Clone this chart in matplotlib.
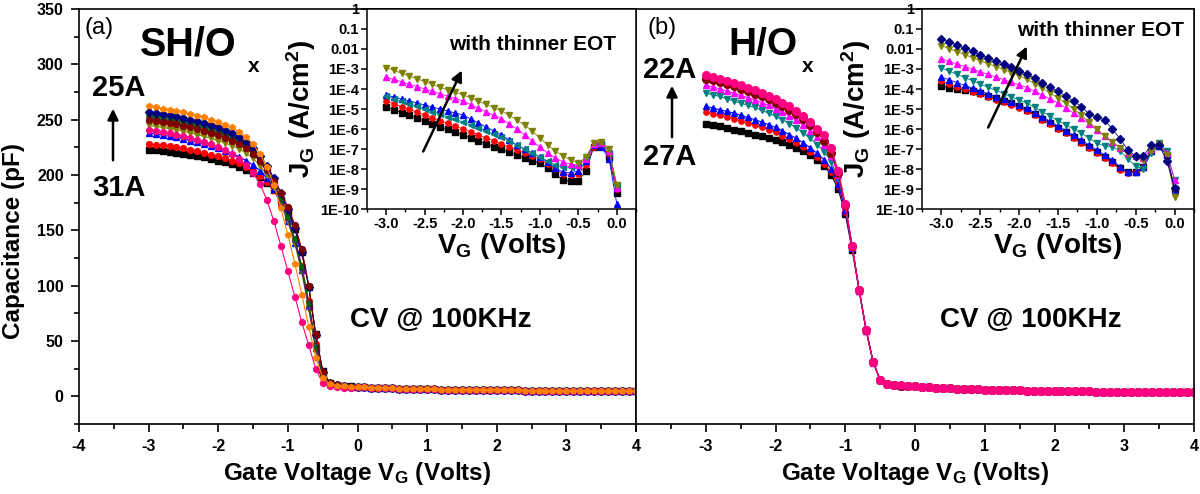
import numpy as np
import matplotlib
matplotlib.use('Agg')
import matplotlib.pyplot as plt
from matplotlib.ticker import MultipleLocator, FixedLocator, NullLocator

plt.rcParams['font.family'] = ['Liberation Sans', 'DejaVu Sans']
plt.rcParams['font.weight'] = 'bold'
plt.rcParams['axes.labelweight'] = 'bold'
plt.rcParams['axes.unicode_minus'] = False
plt.rcParams['mathtext.fontset'] = 'custom'
plt.rcParams['mathtext.rm'] = 'Liberation Sans:bold'
plt.rcParams['mathtext.it'] = 'Liberation Sans:bold'
plt.rcParams['mathtext.bf'] = 'Liberation Sans:bold'
plt.rcParams['mathtext.default'] = 'regular'

# ---------------- data ----------------
# CV sweep voltages (V): head -3.0..-0.1, tail 0.0..4.0 (step 0.1)
v_head = np.round(np.arange(-3.0, -0.05, 0.1), 1)
v_tail = np.round(np.arange(0.0, 4.05, 0.1), 1)
v_cv = np.concatenate([v_head, v_tail])

# panel (a) SH/Ox capacitance (pF), head part
cv_a_black = [223, 222.5, 222, 221, 220, 219, 218, 217, 216, 214.5, 213, 211.5, 209.5, 207, 204.5,
              201.5, 198, 193, 186, 177, 166, 151, 130, 99, 56, 23, 12.5, 10.5, 9.5, 9]
cv_a_red = [228, 227.5, 227, 226, 225, 224, 223, 221.5, 220, 218.5, 217, 215, 213, 210.5, 207.5,
            204, 199.5, 194, 186, 175, 160, 142, 118, 86, 47, 20, 12, 10, 9.2, 8.7]
cv_a_blue = [238, 237, 236, 235, 234, 232.5, 231, 229.5, 228, 226, 224, 222, 219.5, 216.5, 213,
             209, 204, 197, 187, 174, 158, 139, 114, 82, 44, 19, 11.5, 10, 9.2, 8.7]
cv_a_olive = [245, 244, 243, 242, 241, 239.5, 238, 236.5, 235, 233, 231, 229, 226.5, 223.5, 220,
              215, 208.5, 200, 189, 175, 158, 138, 112, 79, 42, 18, 11.5, 10, 9.2, 8.7]
cv_a_navy = [257, 256, 255, 254, 253, 251.5, 250, 248.5, 247, 245, 243, 240.5, 238, 234.5, 230,
             224, 217, 208, 197, 184, 169, 152, 130, 99, 55, 22, 12, 10, 9.2, 8.7]
cv_a_purple = [252, 251, 250, 249, 248, 246.5, 245, 243.5, 242, 240, 238, 235.5, 233, 229.5, 225,
               219, 212, 203, 191, 177, 160, 140, 114, 81, 43, 18, 11.5, 10, 9.2, 8.7]
cv_a_wine = [250, 249, 248, 247, 246, 244.5, 243, 241.5, 240, 238, 236, 233.5, 231, 228, 224,
             219, 213, 205, 195, 184, 171, 155, 133, 100, 56, 22, 12, 10, 9.2, 8.7]
cv_a_green = [254, 253, 252, 251, 250, 248.5, 247, 245.5, 244, 242, 240, 237.5, 235, 231.5, 227,
              221, 214, 205, 193, 179, 162, 142, 117, 84, 45, 19, 11.5, 10, 9.2, 8.7]
cv_a_pink = [241, 240, 239, 238, 236.5, 235, 233.5, 232, 230, 228, 225.5, 222.5, 219, 214.5, 209,
             202, 192, 177, 158, 136, 113, 90, 67, 46, 25, 12, 9, 8, 7.8, 7.6]
cv_a_orange = [262, 261, 260, 259, 258, 256.5, 255, 253.5, 252, 250, 248, 245.5, 243, 239, 234,
               228, 219, 207, 191, 170, 146, 120, 92, 63, 35, 17, 11, 9.5, 9, 8.6]
cv_a_tail = [8.3, 8.0, 7.7, 7.5, 7.3, 7.1, 6.9, 6.7, 6.6, 6.4, 6.3, 6.2, 6.1, 6.0, 5.9, 5.8, 5.7,
             5.65, 5.6, 5.5, 5.45, 5.4, 5.35, 5.3, 5.25, 5.2, 5.15, 5.1, 5.05, 5.0, 4.95, 4.9, 4.85,
             4.8, 4.75, 4.7, 4.65, 4.6, 4.55, 4.5, 4.5]

# panel (b) H/Ox capacitance (pF), head part
cv_b_black = [246, 245, 244, 242.5, 241, 239.5, 238, 236.5, 235, 233, 231.5, 229.5, 227, 224.5, 221.5,
              218, 213.5, 208, 200, 187, 165, 132, 95, 59, 31, 15, 11.5, 10.3, 9.7, 9.2]
cv_b_red = [257, 255.5, 254, 252.5, 251, 249, 247, 245, 243, 241, 238.5, 235.5, 232.5, 229, 225,
            221, 216, 210, 202.5, 190, 167, 134, 96, 60, 31, 15, 11.5, 10.3, 9.7, 9.2]
cv_b_blue = [262, 260.5, 259, 257.5, 256, 254, 252, 250, 248, 245.5, 243, 240, 236.5, 233, 229,
             224.5, 219.5, 213.5, 205.5, 192, 168, 134, 96, 60, 31, 15, 11.5, 10.3, 9.7, 9.2]
cv_b_teal = [274, 272.5, 271, 269, 267, 265, 263, 261, 258.5, 256, 253, 250, 246.5, 242.5, 238,
             233, 227.5, 221, 212, 197, 171, 135, 96, 60, 31, 15, 11.5, 10.3, 9.7, 9.2]
cv_b_magenta = [281, 279.5, 278, 276, 274, 272, 270, 268, 265.5, 263, 260, 257, 253.5, 249.5, 245,
                240, 234, 227, 217, 200, 172, 135, 95, 59, 30, 15, 11.5, 10.3, 9.7, 9.2]
cv_b_wine = [287, 285.5, 284, 282, 280, 278, 276, 273.5, 271, 268.5, 265.5, 262.5, 259, 255, 250.5,
             245, 239, 231, 220, 202, 173, 136, 96, 60, 31, 15, 11.5, 10.3, 9.7, 9.2]
cv_b_pink = [290, 288.5, 287, 285, 283, 281, 279, 276.5, 274, 271.5, 268.5, 265.5, 262, 258, 253.5,
             248, 242, 236, 224, 204, 174, 136, 96, 60, 31, 15, 11.5, 10.5, 9.8, 9.3]
cv_b_tail = [9.0, 8.6, 8.2, 7.8, 7.5, 7.2, 6.9, 6.7, 6.5, 6.3, 6.1, 5.9, 5.75, 5.6, 5.45, 5.3, 5.2,
             5.1, 5.0, 4.9, 4.8, 4.7, 4.6, 4.5, 4.45, 4.4, 4.35, 4.3, 4.25, 4.2, 4.15, 4.1, 4.05,
             4.0, 3.95, 3.9, 3.85, 3.8, 3.75, 3.7, 3.65]

# insets: gate leakage, log10(J_G [A/cm^2]) at V = -3.0 .. 0.0 step 0.1
v_jg = np.round(np.arange(-3.0, 0.05, 0.1), 1)
lj_a_black = [-4.90, -5.04, -5.18, -5.32, -5.46, -5.60, -5.74, -5.88, -6.02, -6.16, -6.30, -6.45, -6.60,
              -6.74, -6.88, -7.02, -7.16, -7.30, -7.44, -7.58, -7.72, -7.95, -8.25, -8.55, -8.62, -8.60,
              -8.10, -6.90, -6.80, -7.40, -9.20]
lj_a_red = [-4.60, -4.74, -4.88, -5.02, -5.16, -5.30, -5.44, -5.58, -5.72, -5.86, -6.00, -6.15, -6.30,
            -6.45, -6.60, -6.75, -6.90, -7.05, -7.20, -7.35, -7.50, -7.75, -8.00, -8.25, -8.30, -8.25,
            -7.80, -6.90, -6.80, -7.30, -9.00]
lj_a_blue = [-4.30, -4.40, -4.50, -4.60, -4.70, -4.80, -4.90, -5.00, -5.10, -5.20, -5.30, -5.50, -5.70,
             -5.90, -6.10, -6.30, -6.55, -6.80, -7.00, -7.20, -7.40, -7.65, -7.95, -8.15, -8.20, -8.10,
             -7.60, -6.80, -6.90, -7.50, -9.75]
lj_a_teal = [-4.35, -4.48, -4.61, -4.74, -4.87, -5.00, -5.13, -5.26, -5.39, -5.52, -5.65, -5.80, -5.95,
             -6.10, -6.25, -6.40, -6.60, -6.80, -7.00, -7.20, -7.40, -7.60, -7.80, -7.90, -7.90, -7.85,
             -7.40, -6.75, -6.75, -7.20, -8.80]
lj_a_magenta = [-3.40, -3.52, -3.64, -3.76, -3.88, -4.00, -4.12, -4.24, -4.36, -4.48, -4.60, -4.78, -4.96,
                -5.14, -5.32, -5.50, -5.75, -6.00, -6.30, -6.60, -6.90, -7.20, -7.45, -7.65, -7.75, -7.80,
                -7.50, -6.75, -6.70, -7.10, -8.95]
lj_a_olive = [-2.93, -3.07, -3.21, -3.35, -3.49, -3.63, -3.77, -3.91, -4.05, -4.17, -4.29, -4.45, -4.61,
              -4.77, -4.93, -5.10, -5.30, -5.55, -5.80, -6.10, -6.45, -6.80, -7.10, -7.35, -7.55, -7.70,
              -7.40, -6.70, -6.65, -7.00, -8.80]

lj_b_black = [-3.87, -3.93, -3.99, -4.05, -4.12, -4.22, -4.34, -4.46, -4.58, -4.72, -4.86, -5.05, -5.26,
              -5.48, -5.70, -5.93, -6.16, -6.40, -6.65, -6.90, -7.15, -7.40, -7.65, -7.95, -8.15, -8.15,
              -7.90, -7.10, -6.85, -7.30, -9.00]
lj_b_red = [-3.60, -3.74, -3.88, -4.01, -4.14, -4.27, -4.40, -4.53, -4.66, -4.80, -4.95, -5.12, -5.32,
            -5.54, -5.76, -5.98, -6.20, -6.45, -6.70, -6.95, -7.20, -7.45, -7.70, -8.05, -8.20, -8.15,
            -7.90, -7.10, -6.85, -7.30, -9.00]
lj_b_blue = [-3.40, -3.54, -3.68, -3.82, -3.96, -4.10, -4.24, -4.38, -4.52, -4.66, -4.80, -4.97, -5.18,
             -5.40, -5.62, -5.85, -6.08, -6.32, -6.55, -6.80, -7.05, -7.30, -7.55, -7.90, -8.15, -8.15,
             -7.90, -7.10, -6.85, -7.30, -9.10]
lj_b_teal = [-2.95, -3.11, -3.27, -3.43, -3.59, -3.75, -3.91, -4.07, -4.23, -4.39, -4.55, -4.72, -4.92,
             -5.14, -5.36, -5.58, -5.80, -6.00, -6.20, -6.45, -6.70, -6.85, -6.90, -7.10, -7.50, -7.85,
             -8.00, -7.20, -6.70, -7.10, -8.55]
lj_b_magenta = [-2.49, -2.62, -2.75, -2.88, -3.01, -3.14, -3.27, -3.40, -3.53, -3.66, -3.79, -3.93, -4.10,
                -4.30, -4.50, -4.70, -4.95, -5.20, -5.45, -5.75, -6.05, -6.35, -6.65, -6.95, -7.20, -7.35,
                -7.45, -7.00, -6.75, -7.20, -8.55]
lj_b_olive = [-1.83, -1.98, -2.13, -2.28, -2.43, -2.58, -2.73, -2.88, -3.03, -3.18, -3.33, -3.52, -3.73,
              -3.96, -4.20, -4.45, -4.72, -5.00, -5.30, -5.65, -6.00, -6.35, -6.65, -6.95, -7.25, -7.45,
              -7.55, -7.10, -6.75, -7.30, -9.40]
lj_b_navy = [-1.48, -1.64, -1.80, -1.96, -2.12, -2.28, -2.44, -2.60, -2.76, -2.92, -3.08, -3.26, -3.46,
             -3.68, -3.90, -4.12, -4.36, -4.60, -4.88, -5.25, -5.40, -5.55, -6.00, -6.50, -7.05, -7.35,
             -7.35, -6.80, -6.80, -7.60, -8.95]

cv_ticks = [-4, -3, -2, -1, 0, 1, 2, 3, 4]
jg_ticks = [1, 0.1, 0.01, 1e-3, 1e-4, 1e-5, 1e-6, 1e-7, 1e-8, 1e-9, 1e-10]
jg_labels = ['1', '0.1', '0.01', '1E-3', '1E-4', '1E-5', '1E-6', '1E-7', '1E-8', '1E-9', '1E-10']
vg_ticks = [-3.0, -2.5, -2.0, -1.5, -1.0, -0.5, 0.0]

# ---------------- style ----------------
C = dict(black='#000000', red='#FF0000', blue='#0000FF', olive='#808000', navy='#000080',
         purple='#6A0DAD', wine='#800000', green='#006400', pink='#FF0080', orange='#FF8000',
         teal='#008080', magenta='#FF00FF')

W, H = 1200, 494
fig = plt.figure(figsize=(12, 4.94), dpi=100)


def fx(px):
    return px / W


def fy(py):
    return 1 - py / H


def bold_ticks(ax):
    for lab in ax.get_xticklabels() + ax.get_yticklabels():
        lab.set_fontweight('bold')


def main_axes(x0, x1):
    ax = fig.add_axes([fx(x0), fy(424), fx(x1) - fx(x0), fy(9) - fy(424)])
    ax.set_xlim(-4, 4)
    ax.set_ylim(-25, 350)
    for s in ax.spines.values():
        s.set_linewidth(1.2)
    ax.xaxis.set_major_locator(FixedLocator(cv_ticks))
    ax.xaxis.set_minor_locator(MultipleLocator(0.5))
    ax.yaxis.set_major_locator(MultipleLocator(50))
    ax.yaxis.set_minor_locator(MultipleLocator(25))
    ax.tick_params(which='major', direction='out', length=6, width=1.2, labelsize=11.5, pad=5,
                   top=False, right=False)
    ax.tick_params(which='minor', direction='out', length=3.5, width=1.2, top=False, right=False)
    ax.set_xlabel('Gate Voltage V$_\\mathbf{G}$ (Volts)', fontsize=17.5, fontweight='bold', labelpad=4)
    return ax


ax_a = main_axes(79, 636)
ax_b = main_axes(636, 1194)
ax_a.set_ylabel('Capacitance (pF)', fontsize=17.5, fontweight='bold')
ax_a.yaxis.set_label_coords(-0.097, 0.44)
ax_b.set_xticklabels(['', '-3', '-2', '-1', '0', '1', '2', '3', '4'])
ax_b.tick_params(axis='y', which='both', left=False, labelleft=False)
bold_ticks(ax_a)
bold_ticks(ax_b)

series_a = [
    (cv_a_black, 'black', 's'), (cv_a_red, 'red', 'o'), (cv_a_blue, 'blue', '^'),
    (cv_a_olive, 'olive', 'v'), (cv_a_purple, 'purple', '<'), (cv_a_green, 'green', 'h'),
    (cv_a_navy, 'navy', 'D'), (cv_a_wine, 'wine', 'o'), (cv_a_pink, 'pink', 'o'),
    (cv_a_orange, 'orange', 'p'),
]
for vals, cname, mk in series_a:
    y = np.concatenate([vals, cv_a_tail])
    ax_a.plot(v_cv, y, color=C[cname], marker=mk, ms=4.2, lw=0.8, mec=C[cname], mfc=C[cname])

series_b = [
    (cv_b_black, 'black', 's', 3.8), (cv_b_red, 'red', 'o', 3.8), (cv_b_blue, 'blue', '^', 4.2),
    (cv_b_teal, 'teal', 'v', 4.4), (cv_b_magenta, 'magenta', '^', 4.4), (cv_b_wine, 'wine', 'o', 5.5),
    (cv_b_pink, 'pink', 'o', 5.5),
]
for vals, cname, mk, ms in series_b:
    y = np.concatenate([vals, cv_b_tail])
    ax_b.plot(v_cv, y, color=C[cname], marker=mk, ms=ms, lw=0.8, mec=C[cname], mfc=C[cname])


def inset_axes(x0, x1):
    ax = fig.add_axes([fx(x0), fy(209), fx(x1) - fx(x0), fy(9) - fy(209)])
    ax.set_yscale('log')
    ax.set_xlim(-3.25, 0.25)
    ax.set_ylim(1e-10, 1)
    for s in ax.spines.values():
        s.set_linewidth(1.1)
    ax.yaxis.set_major_locator(FixedLocator(jg_ticks))
    ax.yaxis.set_minor_locator(NullLocator())
    ax.set_yticklabels(jg_labels)
    ax.xaxis.set_major_locator(FixedLocator(vg_ticks))
    ax.set_xticklabels(['%.1f' % t for t in vg_ticks])
    ax.xaxis.set_minor_locator(MultipleLocator(0.25))
    ax.tick_params(which='major', direction='out', length=4, width=1.1, labelsize=10.5, pad=2,
                   top=False, right=False)
    ax.tick_params(which='minor', direction='out', length=2.5, width=1.0, top=False, right=False)
    ax.set_xlabel('V$_\\mathbf{G}$ (Volts)', fontsize=20, fontweight='bold', labelpad=0)
    ax.set_ylabel('J$_\\mathbf{G}$ (A/cm$^\\mathbf{2}$)', fontsize=20, fontweight='bold', labelpad=1)
    bold_ticks(ax)
    return ax


in_a = inset_axes(367, 636)
in_b = inset_axes(922, 1194)

ins_a = [(lj_a_black, 'black', 's'), (lj_a_red, 'red', 'o'), (lj_a_blue, 'blue', '^'),
         (lj_a_teal, 'teal', '<'), (lj_a_magenta, 'magenta', '^'), (lj_a_olive, 'olive', 'v')]
for vals, cname, mk in ins_a:
    in_a.plot(v_jg, 10.0 ** np.array(vals), color=C[cname], marker=mk, ms=3.8, lw=0.6,
              mec=C[cname], mfc=C[cname])

ins_b = [(lj_b_black, 'black', 's'), (lj_b_red, 'red', 'o'), (lj_b_blue, 'blue', '^'),
         (lj_b_teal, 'teal', 'v'), (lj_b_magenta, 'magenta', '^'), (lj_b_olive, 'olive', 'v'),
         (lj_b_navy, 'navy', 'D')]
for vals, cname, mk in ins_b:
    in_b.plot(v_jg, 10.0 ** np.array(vals), color=C[cname], marker=mk, ms=3.8, lw=0.6,
              mec=C[cname], mfc=C[cname])

# ---------------- annotations ----------------
def ftext(x, y, s, **kw):
    kw.setdefault('fontweight', 'bold')
    fig.text(fx(x), fy(y), s, **kw)


ftext(99, 28, '(a)', fontsize=17, fontweight='normal', ha='center', va='center')
ftext(662, 28, '(b)', fontsize=17, fontweight='normal', ha='center', va='center')
ftext(140, 55, 'SH/O', fontsize=28.5, ha='left', va='baseline')
ftext(254, 66, 'x', fontsize=15, ha='center', va='center')
ftext(728, 55, 'H/O', fontsize=28, ha='left', va='baseline')
ftext(808, 67, 'x', fontsize=15, ha='center', va='center')
ftext(119, 88, '25A', fontsize=21, ha='center', va='center')
ftext(119, 188, '31A', fontsize=21, ha='center', va='center')
ftext(670, 70, '22A', fontsize=21, ha='center', va='center')
ftext(670, 157, '27A', fontsize=21, ha='center', va='center')
ftext(441, 320, 'CV @ 100KHz', fontsize=20, ha='center', va='center')
ftext(1031, 320, 'CV @ 100KHz', fontsize=20, ha='center', va='center')
ftext(533, 45, 'with thinner EOT', fontsize=15, ha='center', va='center')
ftext(1101, 31, 'with thinner EOT', fontsize=15, ha='center', va='center')


def farrow(x0, y0, x1, y1):
    fig.add_artist(matplotlib.patches.FancyArrowPatch(
        (fx(x0), fy(y0)), (fx(x1), fy(y1)), transform=fig.transFigure,
        arrowstyle='-|>', mutation_scale=16, lw=1.8, color='black'))


farrow(113, 163, 113, 106)
farrow(672, 140, 672, 83)
farrow(422, 154, 463, 68)
farrow(987, 130, 1028, 44)

fig.savefig('out.png', dpi=100)
